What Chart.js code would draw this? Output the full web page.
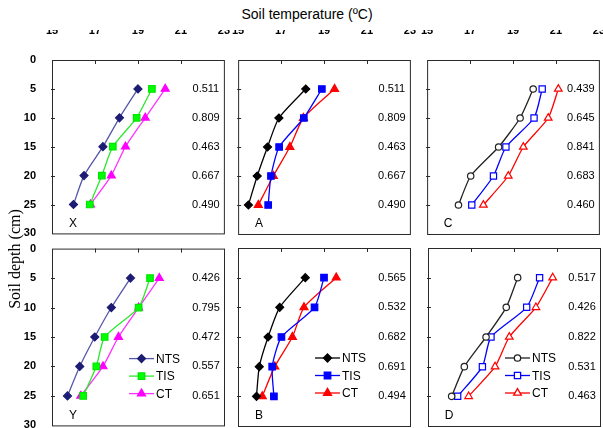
<!DOCTYPE html>
<html>
<head>
<meta charset="utf-8">
<script src="https://cdn.jsdelivr.net/npm/chart.js@4"></script>
<style>
  body { margin: 0; width: 603px; height: 428px; overflow: hidden; position: relative; background: #fff;
         font-family: 'Liberation Sans', Arial, sans-serif; }
  canvas { position: absolute; }
  #title { position: absolute; left: 207px; top: 6px; width: 200px; text-align: center; font-size: 14px; color: #000; }
  #ytitle { position: absolute; left: -45px; top: 250px; width: 120px; text-align: center;
            font-family: 'Liberation Serif', 'Times New Roman', serif; font-size: 16px; color: #000;
            transform: rotate(-90deg); z-index: 2; }
</style>
</head>
<body>
<div id="title">Soil temperature (ºC)</div>
<div id="ytitle">Soil depth (cm)</div>
<canvas id="pX" width="244" height="218" style="left:0;top:30px"></canvas>
<canvas id="pA" width="212" height="218" style="left:218px;top:30px"></canvas>
<canvas id="pC" width="212" height="218" style="left:407px;top:30px"></canvas>
<canvas id="pY" width="244" height="206" style="left:0;top:234px"></canvas>
<canvas id="pB" width="212" height="206" style="left:218px;top:234px"></canvas>
<canvas id="pD" width="212" height="206" style="left:408px;top:234px"></canvas>
<script>
const depths = [5, 10, 15, 20, 25];
const tempTicks = [15, 17, 19, 21, 23];
const depthTicks = [0, 5, 10, 15, 20, 25, 30];
const seriesNames = ['NTS', 'TIS', 'CT'];

// panel X
const ntsX = [19.0, 18.14, 17.37, 16.49, 16.0];
const tisX = [19.65, 18.94, 17.83, 17.32, 16.76];
const ctX = [20.27, 19.34, 18.42, 17.76, 16.79];
const rX = ['0.511', '0.809', '0.463', '0.667', '0.490'];
// panel A
const ntsA = [18.15, 16.9, 16.37, 15.89, 15.48];
const tisA = [18.9, 18.06, 16.91, 16.53, 16.4];
const ctA = [19.49, 18.04, 17.41, 16.64, 15.94];
const rA = ['0.511', '0.809', '0.463', '0.667', '0.490'];
// panel C
const ntsC = [19.94, 19.33, 18.33, 17.03, 16.46];
const tisC = [20.36, 19.98, 18.67, 18.09, 17.08];
const ctC = [21.11, 20.64, 19.48, 18.78, 17.62];
const rC = ['0.439', '0.645', '0.841', '0.683', '0.460'];
// panel Y
const ntsY = [18.65, 17.76, 16.99, 16.29, 15.72];
const tisY = [19.56, 19.03, 17.45, 17.06, 16.45];
const ctY = [19.99, 19.03, 18.09, 17.37, 16.34];
const rY = ['0.426', '0.795', '0.472', '0.557', '0.651'];
// panel B
const ntsB = [18.13, 16.94, 16.4, 15.99, 15.86];
const tisB = [19.0, 18.56, 17.02, 16.59, 16.67];
const ctB = [19.57, 18.07, 17.53, 16.71, 16.13];
const rB = ['0.565', '0.532', '0.682', '0.691', '0.494'];
// panel D
const ntsD = [19.17, 18.64, 17.7, 16.69, 16.1];
const tisD = [20.19, 19.59, 17.93, 17.53, 16.38];
const ctD = [20.8, 20.02, 18.78, 18.12, 16.89];
const rD = ['0.517', '0.426', '0.822', '0.531', '0.463'];

const FONT = 'Liberation Sans, Arial, sans-serif';

// marker / line looks for the three panel columns
const looks = {
  colour: [
    { line: '#5656aa', edge: '#1c1c74', fill: '#1c1c74', shape: 'rectRot', r: 4 },
    { line: '#2ee82e', edge: '#00e600', fill: '#00ff00', shape: 'rect', r: 4.6 },
    { line: '#ff33ff', edge: '#ff00ff', fill: '#ff00ff', shape: 'triangle', r: 4.6 }
  ],
  solid: [
    { line: '#000', edge: '#000', fill: '#000', shape: 'rectRot', r: 4 },
    { line: '#0000ff', edge: '#0000ff', fill: '#0000ff', shape: 'rect', r: 4.6 },
    { line: '#ff0000', edge: '#ff0000', fill: '#ff0000', shape: 'triangle', r: 4.6 }
  ],
  open: [
    { line: '#222', edge: '#222', fill: '#fff', shape: 'circle', r: 3.2 },
    { line: '#0000ff', edge: '#0000ff', fill: '#fff', shape: 'rect', r: 4.4 },
    { line: '#ff0000', edge: '#ff0000', fill: '#fff', shape: 'triangle', r: 4.4 }
  ]
};

function decor(cfg) {
  return {
    id: 'decor',
    afterDraw(chart) {
      const { ctx, chartArea: a, scales } = chart;
      ctx.save();
      ctx.strokeStyle = '#2a2a2a';
      ctx.lineWidth = 1;
      ctx.strokeRect(a.left + 0.5, a.top + 0.5, a.right - a.left, a.bottom - a.top);
      ctx.beginPath();
      tempTicks.slice(1, -1).forEach(t => {
        const x = Math.round(scales.x.getPixelForValue(t)) + 0.5;
        ctx.moveTo(x, a.top); ctx.lineTo(x, a.top + 4);
      });
      depthTicks.slice(1, -1).forEach(d => {
        const y = Math.round(scales.y.getPixelForValue(d)) + 0.5;
        ctx.moveTo(a.left - 1, y); ctx.lineTo(a.left + 3, y);
      });
      ctx.stroke();

      ctx.fillStyle = '#000';
      ctx.font = '11px ' + FONT;
      ctx.textAlign = 'center';
      ctx.textBaseline = 'middle';
      cfg.r.forEach((v, i) => {
        ctx.fillText(v, a.right - 18, scales.y.getPixelForValue(depths[i]));
      });
      ctx.font = '12px ' + FONT;
      ctx.fillText(cfg.letter, a.left + 21, a.bottom - 10);

      if (cfg.legend) {
        ctx.textAlign = 'left';
        seriesNames.forEach((name, i) => {
          const s = looks[cfg.look][i];
          const y = a.top + 110 + i * 17.5;
          const x0 = a.left + 77;
          ctx.strokeStyle = s.line;
          ctx.lineWidth = 1.3;
          ctx.beginPath(); ctx.moveTo(x0, y); ctx.lineTo(x0 + 25, y); ctx.stroke();
          ctx.fillStyle = s.fill;
          ctx.strokeStyle = s.edge;
          Chart.helpers.drawPoint(ctx, { pointStyle: s.shape, radius: s.r, borderWidth: 1.2, rotation: 0 }, x0 + 12.5, y);
          ctx.fillStyle = '#000';
          ctx.font = '12px ' + FONT;
          ctx.fillText(name, x0 + 27, y + 1);
        });
      }
      ctx.restore();
    }
  };
}

function panel(id, cfg) {
  const datasets = cfg.series.map((vals, i) => {
    const s = looks[cfg.look][i];
    return {
      label: seriesNames[i],
      data: vals.map((t, k) => ({ x: t, y: depths[k] })),
      showLine: true,
      borderColor: s.line,
      borderWidth: 1.3,
      tension: 0.2,
      pointStyle: s.shape,
      pointRadius: s.r,
      pointBackgroundColor: s.fill,
      pointBorderColor: s.edge,
      pointBorderWidth: 1.2
    };
  });
  new Chart(document.getElementById(id), {
    type: 'scatter',
    data: { datasets },
    options: {
      responsive: false,
      animation: false,
      events: [],
      layout: { padding: { top: cfg.top ? 0 : 14, right: 20, bottom: 14, left: 0 } },
      plugins: { legend: { display: false }, tooltip: { enabled: false } },
      scales: {
        x: {
          type: 'linear', position: 'top', min: 15, max: 23,
          afterBuildTicks: s => { s.ticks = tempTicks.map(v => ({ value: v })); },
          afterFit: s => { s.height = cfg.top ? 30 : 0; },
          grid: { display: false }, border: { display: false },
          ticks: { display: cfg.top, padding: 14, color: '#000', font: { family: FONT, size: 11, weight: 'bold' } }
        },
        y: {
          type: 'linear', reverse: true, min: 0, max: 30,
          afterBuildTicks: s => { s.ticks = depthTicks.map(v => ({ value: v })); },
          afterFit: s => { s.width = cfg.yLabels ? 52 : 20; },
          grid: { display: false }, border: { display: false },
          ticks: { display: cfg.yLabels, padding: 8, color: '#000', font: { family: FONT, size: 11, weight: 'bold' } }
        }
      }
    },
    plugins: [decor(cfg)]
  });
}

panel('pX', { series: [ntsX, tisX, ctX], r: rX, letter: 'X', look: 'colour', top: true, yLabels: true });
panel('pA', { series: [ntsA, tisA, ctA], r: rA, letter: 'A', look: 'solid', top: true, yLabels: false });
panel('pC', { series: [ntsC, tisC, ctC], r: rC, letter: 'C', look: 'open', top: true, yLabels: false });
panel('pY', { series: [ntsY, tisY, ctY], r: rY, letter: 'Y', look: 'colour', top: false, yLabels: true, legend: true });
panel('pB', { series: [ntsB, tisB, ctB], r: rB, letter: 'B', look: 'solid', top: false, yLabels: false, legend: true });
panel('pD', { series: [ntsD, tisD, ctD], r: rD, letter: 'D', look: 'open', top: false, yLabels: false, legend: true });
</script>
</body>
</html>
